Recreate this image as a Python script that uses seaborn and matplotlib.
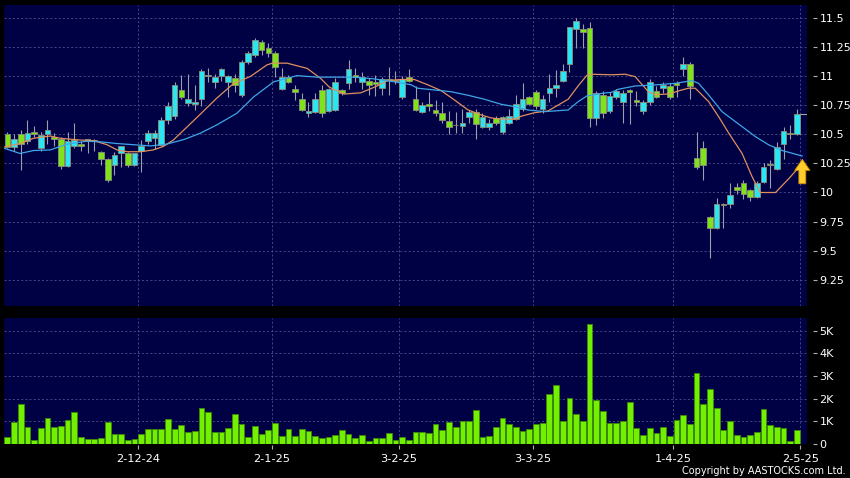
import matplotlib
matplotlib.use("Agg")
import pandas as pd
import matplotlib.pyplot as plt
import seaborn as sns

# Daily candles (one per trading day, last one = 2 May 2025)
opens = [10.50, 10.39, 10.50, 10.44, 10.52, 10.38, 10.50, 10.48, 10.46, 10.23,
         10.40, 10.42, 10.455, 10.45, 10.35, 10.29, 10.24, 10.34, 10.34, 10.24,
         10.355, 10.44, 10.47, 10.41, 10.62, 10.66, 10.88, 10.77, 10.76, 10.80,
         11.00, 10.95, 11.00, 10.95, 10.98, 10.84, 11.12, 11.18, 11.295, 11.24,
         11.195, 10.89, 10.99, 10.89, 10.80, 10.68, 10.69, 10.88, 10.70, 10.71,
         10.88, 10.94, 11.01, 10.95, 10.96, 10.945, 10.90, 10.97, 10.96, 10.82,
         10.99, 10.80, 10.69, 10.76, 10.71, 10.68, 10.615, 10.58, 10.574, 10.65,
         10.69, 10.565, 10.56, 10.637, 10.52, 10.60, 10.63, 10.714, 10.817, 10.86,
         10.714, 10.857, 10.894, 10.957, 11.10, 11.404, 11.40, 11.415, 10.642, 10.84,
         10.70, 10.82, 10.78, 10.88, 10.79, 10.70, 10.774, 10.874, 10.894, 10.917,
         10.937, 11.057, 11.10, 10.293, 10.379, 9.793, 9.693, 9.90, 9.901, 10.05,
         10.079, 10.02, 9.958, 10.093, 10.24, 10.199, 10.416, 10.514, 10.50]
highs = [10.52, 10.50, 10.54, 10.62, 10.57, 10.52, 10.62, 10.51, 10.48, 10.52,
         10.60, 10.44, 10.46, 10.46, 10.36, 10.30, 10.35, 10.40, 10.35, 10.34,
         10.45, 10.54, 10.54, 10.65, 10.78, 10.95, 11.01, 11.02, 10.92, 11.06,
         11.07, 11.02, 11.07, 11.01, 11.02, 11.14, 11.21, 11.33, 11.31, 11.28,
         11.21, 11.07, 11.01, 10.92, 10.85, 10.78, 10.85, 10.92, 10.90, 10.98,
         10.89, 11.14, 11.07, 11.03, 10.98, 11.01, 10.99, 11.08, 11.04, 11.00,
         11.06, 10.91, 10.78, 10.86, 10.79, 10.78, 10.70, 10.69, 10.72, 10.71,
         10.72, 10.68, 10.63, 10.66, 10.66, 10.72, 10.84, 10.94, 10.83, 10.88,
         10.84, 11.02, 11.05, 11.10, 11.42, 11.50, 11.45, 11.46, 10.87, 10.87,
         10.86, 10.89, 10.88, 10.89, 10.87, 10.79, 10.97, 10.91, 10.95, 10.94,
         10.96, 11.166, 11.12, 10.52, 10.445, 9.80, 9.955, 9.91, 10.084, 10.084,
         10.107, 10.03, 10.10, 10.25, 10.28, 10.43, 10.565, 10.58, 10.714]
lows = [10.38, 10.36, 10.19, 10.42, 10.48, 10.36, 10.42, 10.40, 10.20, 10.22,
        10.38, 10.36, 10.34, 10.36, 10.24, 10.09, 10.15, 10.22, 10.22, 10.23,
        10.18, 10.42, 10.37, 10.40, 10.59, 10.63, 10.80, 10.74, 10.71, 10.74,
        10.95, 10.90, 10.96, 10.82, 10.86, 10.82, 11.10, 11.16, 11.18, 11.16,
        10.99, 10.88, 10.94, 10.79, 10.70, 10.65, 10.68, 10.65, 10.69, 10.70,
        10.84, 10.89, 10.95, 10.89, 10.84, 10.83, 10.84, 10.84, 10.93, 10.80,
        10.95, 10.70, 10.68, 10.70, 10.66, 10.60, 10.50, 10.51, 10.51, 10.60,
        10.46, 10.55, 10.54, 10.58, 10.50, 10.59, 10.62, 10.70, 10.75, 10.72,
        10.68, 10.78, 10.82, 10.95, 11.03, 11.24, 11.24, 10.56, 10.58, 10.64,
        10.68, 10.80, 10.60, 10.59, 10.74, 10.67, 10.75, 10.81, 10.85, 10.80,
        10.82, 11.00, 10.80, 10.20, 10.107, 9.435, 9.69, 9.693, 9.864, 9.99,
        9.94, 9.93, 9.95, 10.08, 10.04, 10.19, 10.29, 10.46, 10.49]
closes = [10.39, 10.46, 10.42, 10.51, 10.50, 10.49, 10.54, 10.46, 10.23, 10.44,
          10.45, 10.40, 10.44, 10.445, 10.29, 10.11, 10.32, 10.40, 10.24, 10.34,
          10.40, 10.51, 10.51, 10.62, 10.74, 10.92, 10.82, 10.80, 10.78, 11.04,
          11.01, 10.99, 11.06, 11.00, 10.92, 11.12, 11.195, 11.31, 11.22, 11.195,
          11.08, 10.99, 10.95, 10.86, 10.71, 10.70, 10.80, 10.68, 10.89, 10.95,
          10.855, 11.06, 10.99, 10.99, 10.92, 10.935, 10.97, 10.965, 10.955, 10.97,
          10.96, 10.71, 10.75, 10.745, 10.68, 10.62, 10.56, 10.575, 10.594, 10.69,
          10.59, 10.65, 10.594, 10.60, 10.65, 10.657, 10.757, 10.80, 10.757, 10.742,
          10.80, 10.894, 10.923, 11.043, 11.418, 11.475, 11.375, 10.642, 10.85, 10.68,
          10.83, 10.874, 10.857, 10.86, 10.78, 10.774, 10.951, 10.823, 10.923, 10.817,
          10.923, 11.10, 10.917, 10.216, 10.236, 9.693, 9.898, 9.89, 9.978, 10.02,
          9.987, 9.964, 10.079, 10.216, 10.235, 10.393, 10.53, 10.502, 10.674]
volumes_k = [0.33, 0.98, 1.76, 0.76, 0.19, 0.69, 1.15, 0.75, 0.78, 1.06,
             1.40, 0.30, 0.22, 0.21, 0.27, 0.97, 0.43, 0.43, 0.18, 0.24,
             0.43, 0.64, 0.64, 0.64, 1.09, 0.67, 0.85, 0.54, 0.58, 1.58,
             1.40, 0.55, 0.55, 0.72, 1.33, 0.88, 0.33, 0.81, 0.43, 0.60,
             0.93, 0.37, 0.64, 0.37, 0.67, 0.57, 0.37, 0.25, 0.33, 0.39,
             0.60, 0.46, 0.27, 0.40, 0.13, 0.25, 0.25, 0.49, 0.18, 0.31,
             0.16, 0.55, 0.51, 0.48, 0.88, 0.60, 0.98, 0.76, 1.00, 1.00,
             1.48, 0.30, 0.37, 0.76, 1.13, 0.88, 0.76, 0.57, 0.64, 0.87,
             0.91, 2.22, 2.60, 1.01, 2.03, 1.34, 1.00, 5.28, 1.94, 1.45,
             0.93, 0.91, 1.03, 1.85, 0.69, 0.40, 0.69, 0.49, 0.75, 0.37,
             1.07, 1.27, 0.87, 3.15, 1.75, 2.42, 1.57, 0.61, 1.03, 0.40,
             0.33, 0.39, 0.51, 1.54, 0.82, 0.73, 0.72, 0.15, 0.61]

# moving averages as drawn on the chart (day position, price)
ma_fast_x = [-0.5, 1.9, 3.9, 6.4, 7.9, 10.9, 12.9, 14.9, 16.4, 17.9, 19.9, 21.8,
             23.3, 24.8, 26.9, 28.8, 31.3, 33.8, 36.3, 38.8, 39.6, 41.8, 44.8,
             46.8, 48.1, 50.3, 52.8, 55.3, 56.8, 58.8, 60.8, 62.8, 64.8, 66.8,
             68.8, 70.8, 72.3, 73.8, 75.8, 76.8, 78.8, 80.8, 82.3, 83.8, 85.3,
             86.6, 87.3, 90.3, 92.3, 93.8, 95.8, 96.8, 98.8, 100.8, 101.8, 102.8,
             104.8, 106.3, 107.8, 109.8, 111.3, 112.5, 114.8, 116.8, 118.8]
ma_fast = [10.39, 10.42, 10.465, 10.485, 10.465, 10.45, 10.445, 10.41, 10.365,
           10.35, 10.35, 10.365, 10.395, 10.45, 10.565, 10.67, 10.81, 10.935,
           10.995, 11.095, 11.11, 11.11, 11.065, 10.98, 10.905, 10.845, 10.855,
           10.915, 10.96, 10.97, 10.97, 10.925, 10.875, 10.795, 10.71, 10.665,
           10.64, 10.63, 10.63, 10.655, 10.685, 10.70, 10.75, 10.80, 10.915,
           11.005, 11.015, 11.01, 11.015, 10.995, 10.865, 10.84, 10.845, 10.88,
           10.895, 10.895, 10.78, 10.65, 10.51, 10.335, 10.135, 10.0, 10.0,
           10.12, 10.25]
ma_slow_x = [-0.5, 1.9, 3.9, 6.4, 8.9, 11.85, 13.9, 16.4, 18.9, 21.4, 23.8, 26.4,
             28.8, 31.3, 34.3, 36.8, 39.8, 43.3, 46.3, 48.8, 51.8, 54.8, 57.8,
             60.3, 61.3, 63.8, 66.3, 68.8, 71.3, 73.8, 75.8, 77.8, 80.3, 83.8,
             85.3, 86.6, 88.8, 90.3, 91.3, 93.8, 96.8, 99.8, 102.3, 103.3, 104.8,
             106.8, 108.8, 111.8, 113.8, 115.8, 118.8]
ma_slow = [10.38, 10.335, 10.36, 10.365, 10.415, 10.44, 10.435, 10.42, 10.41,
           10.40, 10.415, 10.455, 10.508, 10.58, 10.68, 10.82, 10.95, 11.003,
           10.99, 10.99, 10.99, 10.975, 10.95, 10.925, 10.895, 10.88, 10.865,
           10.835, 10.80, 10.757, 10.737, 10.708, 10.694, 10.708, 10.78, 10.828,
           10.85, 10.86, 10.886, 10.914, 10.923, 10.937, 10.96, 10.937, 10.837,
           10.694, 10.608, 10.479, 10.408, 10.36, 10.313]

date_labels = ["2-12-24", "2-1-25", "3-2-25", "3-3-25", "1-4-25", "2-5-25"]
date_days = [19, 39, 58, 78, 99, 118]
price_ticks = [9.25, 9.5, 9.75, 10, 10.25, 10.5, 10.75, 11, 11.25, 11.5]
price_labels = ["9.25", "9.5", "9.75", "10", "10.25", "10.5", "10.75", "11", "11.25", "11.5"]
vol_ticks = [0, 1, 2, 3, 4, 5]
vol_labels = ["0", "1K", "2K", "3K", "4K", "5K"]

df = pd.DataFrame({"open": opens, "high": highs, "low": lows,
                   "close": closes, "vol": volumes_k})
df["day"] = range(len(df))
df["up"] = df["close"] >= df["open"]

sns.set_theme(style="dark")
plt.rcParams["font.family"] = ["DejaVu Sans"]

BG = "#000044"
GRID = "#4e4e8c"
CYAN = "#2ae6f2"
GREEN = "#7fe31c"

fig = plt.figure(figsize=(8.5, 4.78), dpi=100, facecolor="black")
ax = fig.add_axes([4 / 850, 1 - 306 / 478, 803 / 850, 301 / 478])
axv = fig.add_axes([4 / 850, 1 - 444 / 478, 803 / 850, 126 / 478], sharex=ax)

# candles
ax.vlines(df["day"], df["low"], df["high"], color="#9aa0aa", lw=0.8, zorder=1)
body_low = df[["open", "close"]].min(axis=1)
body_h = (df["close"] - df["open"]).abs().clip(lower=0.008)
ax.bar(df["day"], body_h, bottom=body_low, width=0.84,
       color=[CYAN if u else GREEN for u in df["up"]],
       edgecolor="#8e8e78", linewidth=0.6, zorder=2)

sns.lineplot(x=ma_fast_x, y=ma_fast, ax=ax, color="#e0905e", lw=0.9, zorder=3)
sns.lineplot(x=ma_slow_x, y=ma_slow, ax=ax, color="#3fa6e6", lw=0.9, zorder=3)

ax.hlines(df["close"].iloc[-1], df["day"].iloc[-1] + 0.4, 119.5,
          color="#a0a0a0", lw=0.8, zorder=3)
ax.annotate("", xy=(118.8, 10.285), xytext=(118.8, 10.075),
            arrowprops=dict(fc="#ffcc2e", ec="#c88a00", width=5, headwidth=11,
                            headlength=8, shrink=0, lw=0.6),
            annotation_clip=False, zorder=4)

# volume
sns.barplot(x="day", y="vol", data=df, native_scale=True, ax=axv,
            color="#72f000", edgecolor="#3c8a08", linewidth=0.6,
            width=0.86, saturation=1, errorbar=None)

for a in (ax, axv):
    a.set_facecolor(BG)
    for s in a.spines.values():
        s.set_visible(False)
    a.spines["right"].set_position(("outward", 4))
    a.yaxis.tick_right()
    a.grid(True, color=GRID, ls=(0, (2.5, 2.5)), lw=0.6)
    a.tick_params(axis="y", right=True, left=False, length=3, width=0.8,
                  color="#b0b0b0", labelcolor="white", labelsize=8, pad=2)
    a.set_xlabel("")
    a.set_ylabel("")

ax.set_xlim(-0.5, 119.5)
ax.set_ylim(9.026, 11.609)
ax.set_yticks(price_ticks, price_labels)

axv.set_ylim(0, 5.56)
axv.set_yticks(vol_ticks, vol_labels)
axv.set_xticks([d + 0.5 for d in date_days], date_labels)
axv.spines["bottom"].set_position(("outward", 1))
axv.tick_params(axis="x", bottom=True, length=3, width=0.8, color="#b0b0b0",
                labelcolor="white", labelsize=8.2, pad=3)
ax.tick_params(axis="x", bottom=False, labelbottom=False)

fig.text(846 / 850, 1 - 471.5 / 478, "Copyright by AASTOCKS.com Ltd.",
         ha="right", va="center", color="white", fontsize=7)

fig.savefig("out.png", dpi=100, facecolor="black")
